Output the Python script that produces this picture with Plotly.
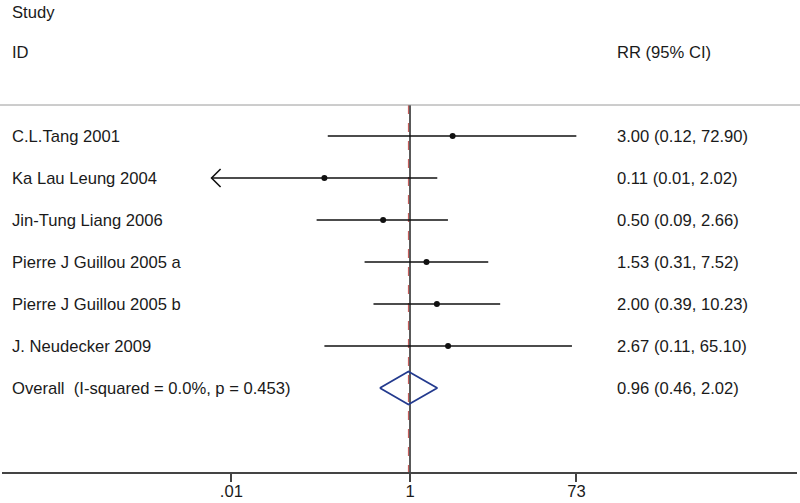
import plotly.graph_objects as go
import math

# ---------------- data ----------------
studies = ["C.L.Tang 2001", "Ka Lau Leung 2004", "Jin-Tung Liang 2006",
           "Pierre J Guillou 2005 a", "Pierre J Guillou 2005 b", "J. Neudecker 2009"]
rr = [3.00, 0.11, 0.50, 1.53, 2.00, 2.67]
ci_low = [0.12, 0.006, 0.09, 0.31, 0.39, 0.11]
ci_high = [72.90, 2.02, 2.66, 7.52, 10.23, 65.10]

overall_label = "Overall\u00a0 (I-squared = 0.0%, p = 0.453)"
overall_rr = 0.96
overall_low = 0.46
overall_high = 2.02

null_value = 1
tick_vals = [0.01, 1, 73]
tick_text = [".01", "1", "73"]

# ---------------- layout helpers ----------------
W, H = 800, 503
ML, MR, MT, MB = 2, 3, 0, 31
PW = W - ML - MR
PH = H - MT - MB
px_per_dec = 89.3
x_one_px = 410
r0 = math.log10(1) - (x_one_px - ML) / px_per_dec
r1 = r0 + PW / px_per_dec

row0_px, row_step = 136, 42
def row_of(py):
    return (py - row0_px) / row_step
y_top = row_of(MT)
y_bot = row_of(MT + PH)
def paper_x(px):
    return (px - ML) / PW

n = len(studies)
rows = list(range(n))
overall_row = n

font_fam = "Liberation Sans, Arial, sans-serif"
txt_col = "#1a1a1a"
fsize = 16.6

fig = go.Figure()

sep_y = row_of(105)

# null line (solid) and overall line (dashed red)
fig.add_trace(go.Scatter(x=[null_value, null_value], y=[sep_y, y_bot], mode="lines",
                         line=dict(color="#222222", width=1.5),
                         hoverinfo="skip", showlegend=False))
fig.add_trace(go.Scatter(x=[overall_rr, overall_rr], y=[sep_y, y_bot], mode="lines",
                         line=dict(color="#c0504d", width=1.0, dash="dash"),
                         hoverinfo="skip", showlegend=False))

# CI lines
xs, ys = [], []
for i in rows:
    xs += [ci_low[i], ci_high[i], None]
    ys += [i, i, None]
fig.add_trace(go.Scatter(x=xs, y=ys, mode="lines",
                         line=dict(color="#111111", width=1.6),
                         hoverinfo="skip", showlegend=False))

# arrow heads for CIs beyond axis lower tick
ax_, ay_ = [], []
fac = 10 ** (9 / px_per_dec)
dy = 9 / row_step
for i in rows:
    if ci_low[i] < tick_vals[0]:
        ax_ += [ci_low[i] * fac, ci_low[i], ci_low[i] * fac, None]
        ay_ += [i - dy, i, i + dy, None]
fig.add_trace(go.Scatter(x=ax_, y=ay_, mode="lines",
                         line=dict(color="#111111", width=1.6),
                         hoverinfo="skip", showlegend=False))

# point estimates
fig.add_trace(go.Scatter(x=rr, y=rows, mode="markers",
                         marker=dict(color="#111111", size=6),
                         hoverinfo="skip", showlegend=False))

# diamond
dh = 16.5 / row_step
fig.add_trace(go.Scatter(
    x=[overall_low, overall_rr, overall_high, overall_rr, overall_low],
    y=[overall_row, overall_row - dh, overall_row, overall_row + dh, overall_row],
    mode="lines", line=dict(color="#233a8e", width=1.8),
    hoverinfo="skip", showlegend=False))

# separator line
fig.add_shape(type="line", xref="paper", yref="y", x0=-0.01, x1=1.01,
              y0=sep_y, y1=sep_y, line=dict(color="#9a9a9a", width=1))

# texts
def add_text(x_px, y, s):
    fig.add_annotation(x=paper_x(x_px), y=y, xref="paper", yref="y", text=s,
                       showarrow=False, xanchor="left", yanchor="middle",
                       font=dict(family=font_fam, size=fsize, color=txt_col))

add_text(10, row_of(12), "Study")
add_text(10, row_of(52), "ID")
add_text(615, row_of(52), "RR (95% CI)")
for i in rows:
    add_text(10, i, studies[i])
    add_text(615, i, f"{rr[i]:.2f} ({ci_low[i]:.2f}, {ci_high[i]:.2f})")
add_text(10, overall_row, overall_label)
add_text(615, overall_row, f"{overall_rr:.2f} ({overall_low:.2f}, {overall_high:.2f})")

fig.update_layout(
    width=W, height=H,
    margin=dict(l=ML, r=MR, t=MT, b=MB, autoexpand=False),
    paper_bgcolor="white", plot_bgcolor="white",
    xaxis=dict(type="log", range=[r0, r1], tickvals=tick_vals, ticktext=tick_text,
               automargin=False, ticklabelstandoff=-5,
               showgrid=False, zeroline=False, showline=True, linecolor="#444444",
               linewidth=1.5, ticks="outside", ticklen=8, tickwidth=1.5,
               tickcolor="#444444",
               tickfont=dict(family=font_fam, size=fsize, color=txt_col)),
    yaxis=dict(range=[y_bot, y_top], autorange=False, showgrid=False, automargin=False,
               zeroline=False, showticklabels=False, showline=False),
)

fig.write_html("out.html", config={"displayModeBar": False},
               post_script="document.body.style.margin='0';document.body.style.overflow='hidden';")
